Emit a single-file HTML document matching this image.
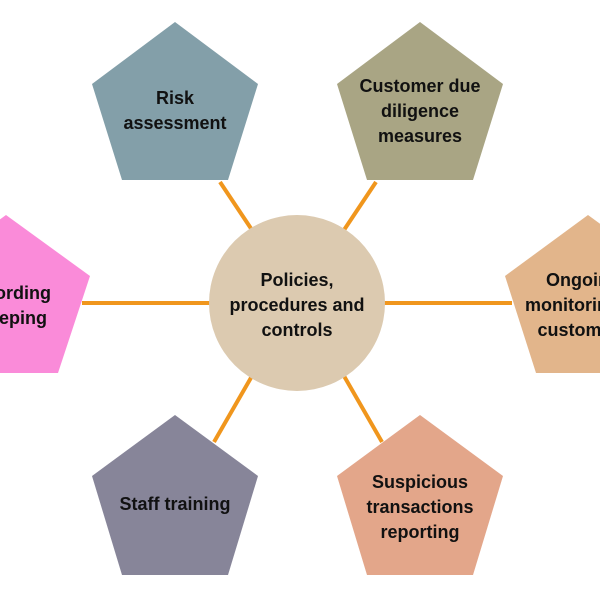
<!DOCTYPE html>
<html><head><style>body{margin:0;background:#fff}svg{display:block}text{font-family:"Liberation Sans",sans-serif;font-weight:bold;font-size:18px;fill:#111;text-anchor:middle}</style></head>
<body><svg width="600" height="600" viewBox="0 0 600 600">
<g stroke="#f0961d" stroke-width="4">
<line x1="82" y1="303" x2="212" y2="303"/>
<line x1="382" y1="303" x2="512" y2="303"/>
<line x1="220" y1="182" x2="252" y2="230"/>
<line x1="376" y1="182" x2="344" y2="230"/>
<line x1="252" y1="376" x2="214" y2="442"/>
<line x1="344" y1="376" x2="382" y2="442"/>
</g>
<polygon points="175,22 258,84 228,180 122,180 92,84" fill="#839fa9"/>
<polygon points="420,22 503,84 473,180 367,180 337,84" fill="#a9a584"/>
<polygon points="6,215 90,276 58,373 -46,373 -78,276" fill="#fa8bd9"/>
<polygon points="588,215 672,276 640,373 536,373 505,276" fill="#e2b58b"/>
<polygon points="175,415 258,476 228,575 122,575 92,476" fill="#878599"/>
<polygon points="420,415 503,476 473,575 367,575 337,476" fill="#e3a68a"/>
<circle cx="297" cy="303" r="88" fill="#dccab0"/>
<text x="175" y="104">Risk</text><text x="175" y="129">assessment</text>
<text x="420" y="92">Customer due</text><text x="420" y="117">diligence</text><text x="420" y="142">measures</text>
<text x="18" y="299">cording</text><text x="18" y="324">eeping</text>
<text x="583" y="286">Ongoing</text><text x="583" y="311">monitoring of</text><text x="583" y="336">customers</text>
<text x="175" y="510">Staff training</text>
<text x="420" y="488">Suspicious</text><text x="420" y="513">transactions</text><text x="420" y="538">reporting</text>
<text x="297" y="286">Policies,</text><text x="297" y="311">procedures and</text><text x="297" y="336">controls</text>
</svg></body></html>
